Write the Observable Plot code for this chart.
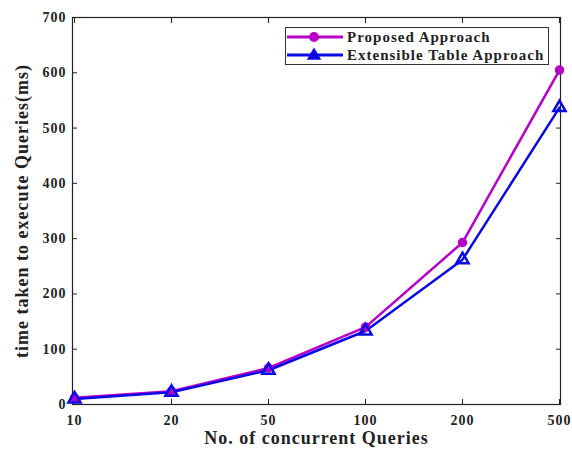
<!DOCTYPE html>
<html><head><meta charset="utf-8">
<script src="https://cdn.jsdelivr.net/npm/d3@7"></script>
<script src="https://cdn.jsdelivr.net/npm/@observablehq/plot@0.6"></script>
<style>
body{margin:0;background:#fff;}
#wrap{position:relative;width:572px;height:452px;font-family:"Liberation Serif","Times New Roman",serif;}
#legend{position:absolute;left:285px;top:27px;width:262px;height:36px;border:1px solid #333;background:#fff;font-weight:bold;font-size:15px;letter-spacing:1px;color:#222;}
.row{position:absolute;left:0px;height:18px;display:flex;align-items:center;}
.row svg{margin-right:3px;}
</style></head>
<body><div id="wrap"><div id="legend"></div></div>
<script>
const categories = ["10","20","50","100","200","500"];
const proposed = [12, 24, 66, 140, 293, 605];
const extensible = [10, 22, 62, 133, 262, 537];
const yTicks = [0,100,200,300,400,500,600,700];
const seriesNames = ["Proposed Approach","Extensible Table Approach"];
const colors = ["#b800c8","#0a0ae6"];

const data = [];
categories.forEach((c,i)=>{
  data.push({x:c,y:proposed[i],s:seriesNames[0]});
  data.push({x:c,y:extensible[i],s:seriesNames[1]});
});
const P = data.filter(d=>d.s===seriesNames[0]);
const E = data.filter(d=>d.s===seriesNames[1]);

const chart = Plot.plot({
  width:572, height:452,
  marginLeft:72, marginRight:12, marginTop:17, marginBottom:48,
  style:{fontFamily:"Liberation Serif", fontWeight:"bold", fontSize:"14px", color:"#222", background:"#fff", letterSpacing:"1px"},
  x:{type:"point", domain:categories, padding:0},
  y:{domain:[0,700]},
  marks:[
    Plot.frame({stroke:"#222", strokeWidth:1.2}),
    Plot.axisY({ticks:yTicks, tickSize:-5, tickPadding:11, label:null, fontSize:14}),
    Plot.axisY({ticks:yTicks, anchor:"right", tickSize:-5, tickFormat:()=>"", label:null}),
    Plot.axisX({tickSize:-5, tickPadding:16, label:null, fontSize:14}),
    Plot.axisX({anchor:"top", tickSize:-5, tickFormat:()=>"", label:null}),
    Plot.line(P,{x:"x",y:"y",stroke:colors[0],strokeWidth:2.5}),
    Plot.line(E,{x:"x",y:"y",stroke:colors[1],strokeWidth:2.5}),
    Plot.dot(P,{x:"x",y:"y",fill:colors[0],stroke:colors[0],r:4,symbol:"circle"}),
    Plot.dot(E,{x:"x",y:"y",fill:"none",stroke:colors[1],strokeWidth:2.5,r:4.5,symbol:"triangle"}),
    Plot.text(["time taken to execute Queries(ms)"],{frameAnchor:"left",dx:-50,rotate:-90,textAnchor:"middle",text:d=>d,fontSize:18,fontWeight:"bold",fill:"#222"}),
    Plot.text(["No. of concurrent Queries"],{frameAnchor:"bottom",dy:39,text:d=>d,fontSize:18,fontWeight:"bold",fill:"#222"})
  ]
});
document.getElementById("wrap").prepend(chart);

const leg = document.getElementById("legend");
seriesNames.forEach((name,i)=>{
  const row = document.createElement("div");
  row.className="row"; row.style.top=(0+i*18)+"px";
  const sym = i===0
    ? `<circle cx="28" cy="9" r="5" fill="${colors[0]}"/>`
    : `<path d="M28,3 L34,13 L22,13 Z" fill="${colors[1]}" stroke="${colors[1]}" stroke-width="1.5"/>`;
  row.innerHTML = `<svg width="58" height="18"><line x1="1" x2="57" y1="9" y2="9" stroke="${colors[i]}" stroke-width="3"/>${sym}</svg><span>${name}</span>`;
  leg.appendChild(row);
});
</script></body></html>
